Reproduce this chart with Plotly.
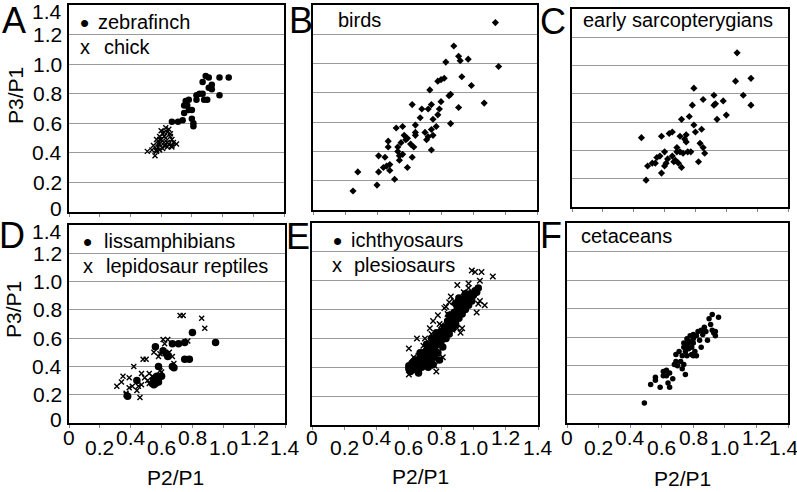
import plotly.graph_objects as go

# ---------------- data ----------------
zebrafinch_x = [0.67, 0.71, 0.74, 0.75, 0.76, 0.78, 0.77, 0.78, 0.80, 0.80, 0.81, 0.81, 0.83, 0.83,
                0.85, 0.87, 0.87, 0.89, 0.91, 0.91, 0.93, 0.93, 0.88, 0.90, 0.98, 0.98, 1.04, 0.75]
zebrafinch_y = [0.61, 0.61, 0.62, 0.72, 0.75, 0.76, 0.72, 0.69, 0.69, 0.63, 0.60, 0.58, 0.76, 0.79,
                0.80, 0.80, 0.88, 0.92, 0.91, 0.84, 0.83, 0.86, 0.76, 0.76, 0.79, 0.91, 0.91, 0.67]
chick_x = [0.51, 0.54, 0.56, 0.57, 0.58, 0.59, 0.59, 0.60, 0.61, 0.62, 0.63, 0.64, 0.65, 0.66,
           0.67, 0.68, 0.70, 0.67, 0.64, 0.61, 0.59, 0.58, 0.60, 0.62, 0.64, 0.66, 0.57, 0.55,
           0.62, 0.59, 0.67, 0.63, 0.65, 0.57, 0.62]
chick_y = [0.41, 0.42, 0.38, 0.42, 0.44, 0.49, 0.51, 0.55, 0.53, 0.47, 0.50, 0.54, 0.56, 0.51,
           0.49, 0.47, 0.46, 0.45, 0.44, 0.43, 0.42, 0.46, 0.49, 0.51, 0.47, 0.53, 0.49, 0.45,
           0.45, 0.46, 0.44, 0.57, 0.46, 0.41, 0.54]

birds_x = [0.25, 0.28, 0.40, 0.41, 0.41, 0.45, 0.44, 0.46, 0.48, 0.48, 0.47, 0.47, 0.51, 0.52,
           0.53, 0.53, 0.54, 0.54, 0.55, 0.56, 0.56, 0.57, 0.59, 0.59, 0.61, 0.62, 0.62, 0.63,
           0.64, 0.64, 0.67, 0.68, 0.70, 0.71, 0.72, 0.72, 0.73, 0.74, 0.74, 0.75, 0.74, 0.75,
           0.77, 0.78, 0.78, 0.79, 0.80, 0.80, 0.82, 0.83, 0.85, 0.86, 0.86, 0.88, 0.91, 0.91,
           0.92, 0.93, 0.97, 0.99, 1.07, 1.14, 1.16, 0.64, 0.58]
birds_y = [0.13, 0.26, 0.17, 0.26, 0.37, 0.36, 0.29, 0.30, 0.31, 0.27, 0.43, 0.47, 0.21, 0.56,
           0.43, 0.40, 0.34, 0.37, 0.46, 0.38, 0.57, 0.51, 0.49, 0.29, 0.45, 0.36, 0.72, 0.43,
           0.51, 0.58, 0.63, 0.69, 0.53, 0.48, 0.50, 0.69, 0.82, 0.72, 0.55, 0.51, 0.41, 0.62,
           0.57, 0.88, 0.65, 0.69, 0.74, 0.89, 0.90, 1.01, 0.78, 0.59, 0.79, 1.12, 1.05, 0.70,
           1.02, 0.91, 1.03, 0.85, 0.73, 1.28, 0.98, 0.53, 0.48]

sarco_x = [0.45, 0.48, 0.49, 0.54, 0.55, 0.57, 0.58, 0.58, 0.60, 0.60, 0.61, 0.62, 0.63, 0.65,
           0.65, 0.67, 0.68, 0.68, 0.69, 0.70, 0.70, 0.71, 0.71, 0.72, 0.73, 0.74, 0.74, 0.75,
           0.76, 0.77, 0.78, 0.79, 0.79, 0.80, 0.82, 0.83, 0.84, 0.85, 0.85, 0.86, 0.92, 0.92,
           0.93, 0.94, 0.98, 1.00, 1.06, 1.07, 1.11, 1.16, 1.16, 0.66, 0.52]
sarco_y = [0.49, 0.19, 0.29, 0.31, 0.35, 0.36, 0.50, 0.24, 0.39, 0.29, 0.31, 0.34, 0.52, 0.53,
           0.36, 0.33, 0.39, 0.42, 0.31, 0.39, 0.50, 0.28, 0.62, 0.38, 0.48, 0.51, 0.46, 0.39,
           0.64, 0.39, 0.72, 0.58, 0.84, 0.53, 0.32, 0.45, 0.55, 0.42, 0.76, 0.38, 0.79, 0.72,
           0.73, 0.62, 0.75, 0.65, 0.89, 1.09, 0.79, 0.72, 0.91, 0.32, 0.31]

liss_x = [0.38, 0.44, 0.54, 0.55, 0.56, 0.57, 0.57, 0.58, 0.56, 0.60, 0.61, 0.63, 0.64, 0.67,
          0.68, 0.67, 0.71, 0.75, 0.75, 0.78, 0.80, 0.95, 0.55, 0.58]
liss_y = [0.19, 0.30, 0.28, 0.31, 0.28, 0.30, 0.33, 0.40, 0.54, 0.33, 0.51, 0.49, 0.47, 0.40,
          0.39, 0.56, 0.56, 0.57, 0.45, 0.45, 0.64, 0.57, 0.27, 0.29]
lepi_x = [0.31, 0.34, 0.35, 0.37, 0.39, 0.39, 0.41, 0.42, 0.44, 0.45, 0.46, 0.47, 0.47, 0.48,
          0.50, 0.49, 0.51, 0.52, 0.52, 0.55, 0.58, 0.59, 0.60, 0.61, 0.62, 0.64, 0.65, 0.67,
          0.68, 0.72, 0.74, 0.77, 0.86, 0.88, 0.59, 0.54, 0.37]
lepi_y = [0.26, 0.29, 0.33, 0.21, 0.25, 0.32, 0.26, 0.40, 0.23, 0.26, 0.18, 0.27, 0.35, 0.45,
          0.45, 0.32, 0.30, 0.35, 0.28, 0.50, 0.47, 0.37, 0.36, 0.59, 0.56, 0.59, 0.50, 0.47,
          0.42, 0.76, 0.76, 0.58, 0.74, 0.67, 0.49, 0.33, 0.20]

ichthy_x = [0.60, 0.60, 0.61, 0.62, 0.63, 0.64, 0.65, 0.66, 0.66, 0.67, 0.68, 0.68, 0.69, 0.70,
            0.70, 0.71, 0.72, 0.72, 0.73, 0.73, 0.74, 0.75, 0.75, 0.76, 0.76, 0.77, 0.78, 0.78,
            0.79, 0.80, 0.80, 0.81, 0.82, 0.82, 0.83, 0.84, 0.84, 0.85, 0.86, 0.86, 0.87, 0.88,
            0.88, 0.89, 0.90, 0.90, 0.91, 0.92, 0.92, 0.93, 0.94, 0.94, 0.95, 0.96, 0.96, 0.97,
            0.98, 0.98, 0.99, 1.00, 1.01, 1.02, 1.03, 0.77, 0.74, 0.71, 0.79, 0.63, 0.67, 0.85,
            0.89, 0.91, 0.95]
ichthy_y = [0.39, 0.41, 0.37, 0.43, 0.40, 0.45, 0.38, 0.36, 0.42, 0.47, 0.40, 0.44, 0.50, 0.42,
            0.46, 0.52, 0.40, 0.48, 0.44, 0.54, 0.50, 0.42, 0.57, 0.47, 0.53, 0.60, 0.50, 0.56,
            0.62, 0.58, 0.65, 0.54, 0.62, 0.68, 0.60, 0.66, 0.72, 0.63, 0.70, 0.75, 0.67, 0.73,
            0.78, 0.70, 0.76, 0.81, 0.74, 0.79, 0.84, 0.77, 0.82, 0.87, 0.80, 0.85, 0.89, 0.83,
            0.88, 0.91, 0.86, 0.90, 0.93, 0.92, 0.95, 0.64, 0.60, 0.56, 0.45, 0.44, 0.50, 0.76,
            0.84, 0.88, 0.91]
plesio_x = [0.60, 0.60, 0.65, 0.70, 0.73, 0.75, 0.77, 0.81, 0.83, 0.86, 0.90, 0.92, 0.97, 0.99,
            1.01, 1.04, 1.05, 1.12, 1.02, 1.03, 1.04, 1.07, 0.93, 0.90, 0.85, 0.82, 0.80, 0.78,
            0.76, 0.71, 0.66, 0.69, 0.74, 0.79, 0.84, 0.88, 0.94, 0.97, 0.63, 0.87]
plesio_y = [0.35, 0.53, 0.60, 0.60, 0.67, 0.72, 0.37, 0.47, 0.82, 0.89, 0.97, 0.64, 0.98, 1.07,
            1.06, 1.00, 1.06, 1.03, 0.78, 0.84, 0.86, 0.83, 0.67, 0.67, 0.85, 0.81, 0.69, 0.76,
            0.41, 0.41, 0.48, 0.55, 0.63, 0.70, 0.77, 0.86, 0.92, 0.95, 0.47, 0.66]

cet_x = [0.49, 0.53, 0.56, 0.56, 0.59, 0.61, 0.61, 0.63, 0.63, 0.64, 0.65, 0.65, 0.67, 0.68,
         0.69, 0.69, 0.70, 0.71, 0.72, 0.73, 0.74, 0.74, 0.75, 0.75, 0.76, 0.76, 0.77, 0.77,
         0.78, 0.78, 0.79, 0.80, 0.80, 0.80, 0.81, 0.82, 0.82, 0.83, 0.84, 0.85, 0.85, 0.86,
         0.87, 0.88, 0.89, 0.90, 0.91, 0.92, 0.92, 0.93, 0.94, 0.96, 0.94, 0.76, 0.73, 0.79,
         0.80, 0.74]
cet_y = [0.14, 0.27, 0.32, 0.30, 0.25, 0.33, 0.36, 0.37, 0.33, 0.28, 0.25, 0.35, 0.31, 0.41,
         0.48, 0.43, 0.40, 0.50, 0.43, 0.38, 0.41, 0.56, 0.34, 0.50, 0.54, 0.59, 0.52, 0.56,
         0.61, 0.57, 0.53, 0.59, 0.62, 0.56, 0.50, 0.47, 0.61, 0.64, 0.58, 0.65, 0.53, 0.62,
         0.67, 0.64, 0.58, 0.73, 0.69, 0.76, 0.65, 0.63, 0.61, 0.74, 0.64, 0.47, 0.47, 0.48,
         0.47, 0.53]

tick_vals = [0, 0.2, 0.4, 0.6, 0.8, 1.0, 1.2, 1.4]
tick_text = ["0", "0.2", "0.4", "0.6", "0.8", "1.0", "1.2", "1.4"]
panel_letters = ["A", "B", "C", "D", "E", "F"]
x_title = "P2/P1"
y_title = "P3/P1"

# ---------------- layout helpers ----------------
W, H = 797, 492
FONT = "Liberation Sans, Arial, sans-serif"


def px(xp):
    return xp / W


def py(yp):
    return 1 - yp / H


# plot boxes in pixels: (left, right, top, bottom)
boxes = [
    (69, 284, 5, 212),
    (313, 537, 5, 210),
    (572, 788, 9, 207),
    (69, 285, 225, 423),
    (312, 538, 223, 425),
    (567, 788, 223, 423),
]

fig = go.Figure()

dot = lambda s: dict(symbol="circle", size=s, color="black")
cross = lambda s: dict(symbol="x-thin-open", size=s, color="black", line=dict(width=1.4, color="black"))
diamond = lambda s: dict(symbol="diamond", size=s, color="black")

series = [
    (1, zebrafinch_x, zebrafinch_y, dot(6.5)),
    (1, chick_x, chick_y, cross(5)),
    (2, birds_x, birds_y, diamond(5.5)),
    (3, sarco_x, sarco_y, diamond(5.5)),
    (4, lepi_x, lepi_y, cross(5)),
    (4, liss_x, liss_y, dot(7.5)),
    (5, ichthy_x, ichthy_y, dot(7.5)),
    (5, plesio_x, plesio_y, cross(5.5)),
    (6, cet_x, cet_y, dot(5.5)),
]
for k, xs, ys, mk in series:
    fig.add_trace(go.Scatter(x=xs, y=ys, mode="markers", marker=mk,
                             xaxis="x" if k == 1 else f"x{k}",
                             yaxis="y" if k == 1 else f"y{k}",
                             showlegend=False, hoverinfo="skip"))

layout = {}
for i, (l, r, t, b) in enumerate(boxes):
    k = i + 1
    xn = "xaxis" if k == 1 else f"xaxis{k}"
    yn = "yaxis" if k == 1 else f"yaxis{k}"
    layout[xn] = dict(domain=[px(l), px(r)], range=[0, 1.4], anchor="y" if k == 1 else f"y{k}",
                      showline=True, mirror=True, linecolor="black", linewidth=2,
                      showgrid=False, zeroline=False, ticks="outside", ticklen=3,
                      tickcolor="#888", tickwidth=1, tickvals=tick_vals,
                      showticklabels=False, fixedrange=True)
    layout[yn] = dict(domain=[py(b), py(t)], range=[0, 1.4], anchor="x" if k == 1 else f"x{k}",
                      showline=True, mirror=True, linecolor="black", linewidth=2,
                      showgrid=True, gridcolor="#9a9a9a", gridwidth=1.3, zeroline=False,
                      ticks="", tickvals=tick_vals, showticklabels=False, fixedrange=True)

ann = []
# panel letters
letter_pos = [(14, 20), (301, 20), (553, 21), (12, 235), (298, 236), (551, 235)]
for let, (lx, ly) in zip(panel_letters, letter_pos):
    ann.append(dict(text=let, x=px(lx), y=py(ly), xref="paper", yref="paper",
                    xanchor="center", yanchor="middle", showarrow=False,
                    font=dict(size=36, color="black", family=FONT)))

# y tick labels on left column (first raised slightly, last lowered, as in the figure)
for k in (1, 4):
    yref = "y" if k == 1 else f"y{k}"
    for j, (v, t) in enumerate(zip(tick_vals, tick_text)):
        shift = 4 if j == 0 else (-7 if j == len(tick_vals) - 1 else 0)
        ann.append(dict(text=t, x=px(64), xref="paper", y=v, yref=yref, yshift=shift,
                        xanchor="right", yanchor="middle", showarrow=False,
                        font=dict(size=21, color="black", family=FONT)))

# staggered x tick labels on bottom row
for k in (4, 5, 6):
    for j, (v, t) in enumerate(zip(tick_vals, tick_text)):
        xs = -4 if (k == 6 and j == len(tick_vals) - 1) else 0
        ann.append(dict(text=t, x=v, xref=f"x{k}", xshift=xs,
                        y=py(437 if j % 2 == 0 else 447), yref="paper",
                        xanchor="center", yanchor="middle", showarrow=False,
                        font=dict(size=21, color="black", family=FONT)))

# axis titles
for (tx, ty) in [(175, 477), (420, 476), (682, 478)]:
    ann.append(dict(text=x_title, x=px(tx), y=py(ty), xref="paper", yref="paper",
                    xanchor="center", yanchor="middle", showarrow=False,
                    font=dict(size=21, color="black", family=FONT)))
for (tx, ty) in [(15, 95), (13, 310)]:
    ann.append(dict(text=y_title, x=px(tx), y=py(ty), xref="paper", yref="paper",
                    xanchor="center", yanchor="middle", showarrow=False, textangle=-90,
                    font=dict(size=21, color="black", family=FONT)))

# in-panel legends: (symbol, symbol x, label, label x, y)
legend_items = [
    ("•", 84, "zebrafinch", 96, 22),
    ("x", 85, "chick", 102, 47),
    ("", 0, "birds", 336, 20),
    ("", 0, "early sarcopterygians", 581, 20),
    ("•", 87, "lissamphibians", 102, 241),
    ("x", 88, "lepidosaur reptiles", 104, 266),
    ("•", 337, "ichthyosaurs", 349, 240),
    ("x", 337, "plesiosaurs", 352, 265),
    ("", 0, "cetaceans", 579, 236),
]
for sym, sx, lab, lx, ly in legend_items:
    if sym:
        ann.append(dict(text=sym, x=px(sx), y=py(ly + (1 if sym == "•" else 0)), xref="paper", yref="paper",
                        xanchor="center", yanchor="middle", showarrow=False,
                        font=dict(size=26 if sym == "•" else 20, color="black", family=FONT)))
    ann.append(dict(text=lab, x=px(lx), y=py(ly), xref="paper", yref="paper",
                    xanchor="left", yanchor="middle", showarrow=False,
                    font=dict(size=20, color="black", family=FONT)))

fig.update_layout(width=W, height=H, margin=dict(l=0, r=0, t=0, b=0),
                  paper_bgcolor="white", plot_bgcolor="white",
                  font=dict(family=FONT, color="black"),
                  annotations=ann, showlegend=False, **layout)

fig.write_html("out.html", config={"displayModeBar": False},
               post_script="document.body.style.margin='0';document.body.style.overflow='hidden';")
